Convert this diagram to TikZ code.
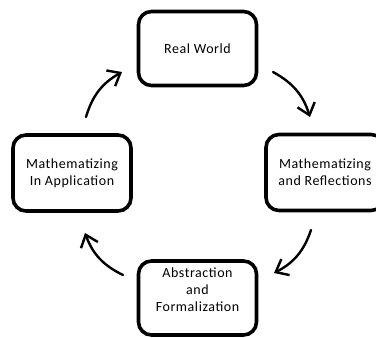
\documentclass[tikz,border=0pt]{standalone}
\usepackage{fontspec}
\setmainfont{Carlito}[LetterSpace=4]
\usetikzlibrary{arrows.meta}

\begin{document}
\begin{tikzpicture}[
    x=1pt, y=1pt,
    stage/.style={draw, line width=3.6pt, rounded corners=13pt, fill=white, align=center, font=\fontsize{14}{17}\selectfont, inner sep=2pt, minimum width=118pt},
    cyc/.style={-{Straight Barb[length=11pt, width=18pt, line width=2.4pt]}, line width=2.4pt, line cap=round, bend left=22}
]
\useasboundingbox (0,0) rectangle (376,338);

% Stage nodes
\node[stage, minimum height=74pt] (world) at (197.5,289.5) {Real World};
\node[stage, minimum height=76pt] (reflect) at (325,165.5) {Mathematizing\\and Reflections};
\node[stage, minimum height=74pt] (formal) at (197.5,40) {Abstraction\\and\\Formalization\\[-1pt]\mbox{}};
\node[stage, minimum height=76pt] (apply) at (72,165) {Mathematizing\\In Application};

% Arrow end points
\coordinate (a1s) at (86,221);  \coordinate (a1e) at (122,266);
\coordinate (a2s) at (273,266); \coordinate (a2e) at (310,221);
\coordinate (a3s) at (311,108); \coordinate (a3e) at (274,65);
\coordinate (a4s) at (123,63);  \coordinate (a4e) at (85,105);

% Cycle arrows
\draw[cyc] (a1s) to (a1e);
\draw[cyc] (a2s) to (a2e);
\draw[cyc] (a3s) to (a3e);
\draw[cyc] (a4s) to (a4e);

\end{tikzpicture}
\end{document}
